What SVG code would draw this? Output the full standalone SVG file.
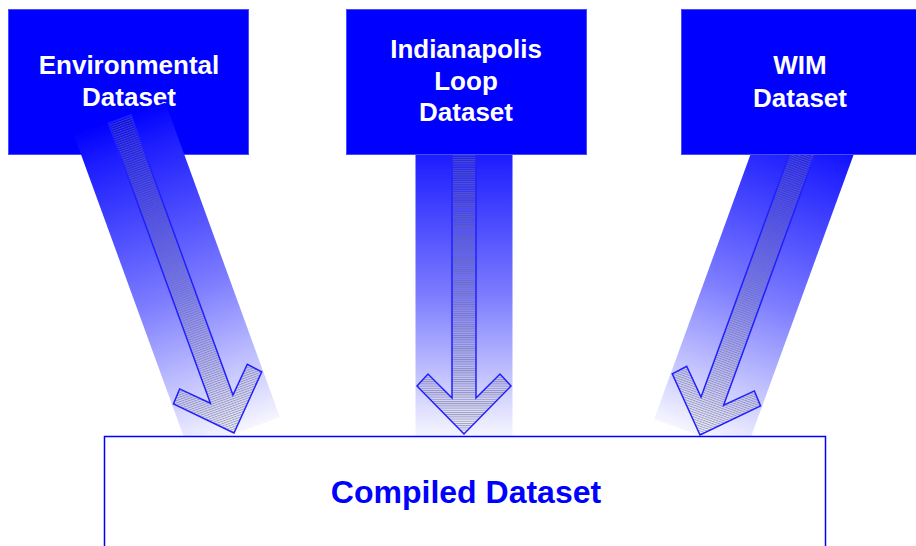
<svg xmlns="http://www.w3.org/2000/svg" width="916" height="546" viewBox="0 0 916 546">
  <style>
    .box { fill: #0000ff; stroke: #4a4aff; stroke-width: 1; }
    .lbl { font-family: "Liberation Sans", Arial, sans-serif; font-weight: bold; font-size: 26px; fill: #ffffff; text-anchor: middle; }
    .out { fill: #ffffff; stroke: #0000ff; stroke-width: 1.5; }
    .outlbl { font-family: "Liberation Sans", Arial, sans-serif; font-weight: bold; font-size: 32px; fill: #0000ff; text-anchor: middle; }
    .band { fill: url(#bandGrad); }
    .bandlong { fill: url(#bandGradLong); }
    .arrow { fill: url(#hatch); stroke: #2020ff; stroke-width: 1.5; stroke-linejoin: miter; }
  </style>
  <defs>
    <linearGradient id="bandGrad" x1="0" y1="0" x2="0" y2="1">
      <stop offset="0" stop-color="#1c1cff"/>
      <stop offset="0.5" stop-color="#7c7cff"/>
      <stop offset="1" stop-color="#f6f6ff"/>
    </linearGradient>
    <linearGradient id="bandGradLong" x1="0" y1="0" x2="0" y2="1">
      <stop offset="0" stop-color="#0202ff"/>
      <stop offset="0.1" stop-color="#1c1cff"/>
      <stop offset="0.55" stop-color="#7c7cff"/>
      <stop offset="1" stop-color="#f6f6ff"/>
    </linearGradient>
    <pattern id="hatch" patternUnits="userSpaceOnUse" width="6" height="2.2">
      <rect x="0" y="0" width="6" height="1" fill="#6a6a90" fill-opacity="0.6"/>
    </pattern>
  </defs>

  <g id="node-environmental">
    <rect class="box" x="8.5" y="9.5" width="240" height="145"/>
    <text class="lbl" x="129" y="74">Environmental</text>
    <text class="lbl" x="129" y="106">Dataset</text>
  </g>

  <g id="connectors">
    <g id="arrow-environmental" transform="translate(234,433) rotate(-20)">
      <rect class="bandlong" x="-48.5" y="-334" width="97" height="335"/>
      <path class="arrow" d="M0,0 L-47,-48 L-36,-60 L-12,-36 L-12,-334 L12,-334 L12,-36 L36,-60 L47,-48 Z"/>
    </g>
    <g id="arrow-indianapolis" transform="translate(464,434)">
      <rect class="band" x="-48.5" y="-280" width="97" height="282"/>
      <path class="arrow" d="M0,0 L-47,-48 L-36,-60 L-12,-36 L-12,-280 L12,-280 L12,-36 L36,-60 L47,-48 Z"/>
    </g>
    <g id="arrow-wim" transform="translate(700,435) rotate(20)">
      <rect class="bandlong" x="-48.5" y="-334" width="97" height="335"/>
      <path class="arrow" d="M0,0 L-47,-48 L-36,-60 L-12,-36 L-12,-334 L12,-334 L12,-36 L36,-60 L47,-48 Z"/>
    </g>
  </g>

  <g id="node-indianapolis">
    <rect class="box" x="346.5" y="9.5" width="240" height="145"/>
    <text class="lbl" x="466" y="58">Indianapolis</text>
    <text class="lbl" x="466" y="90">Loop</text>
    <text class="lbl" x="466" y="121">Dataset</text>
  </g>

  <g id="node-wim">
    <rect class="box" x="681.5" y="9.5" width="240" height="145"/>
    <text class="lbl" x="800" y="74">WIM</text>
    <text class="lbl" x="800" y="107">Dataset</text>
  </g>

  <g id="node-compiled">
    <rect class="out" x="104.5" y="436.5" width="721" height="120"/>
    <text class="outlbl" x="466" y="503">Compiled Dataset</text>
  </g>
</svg>
